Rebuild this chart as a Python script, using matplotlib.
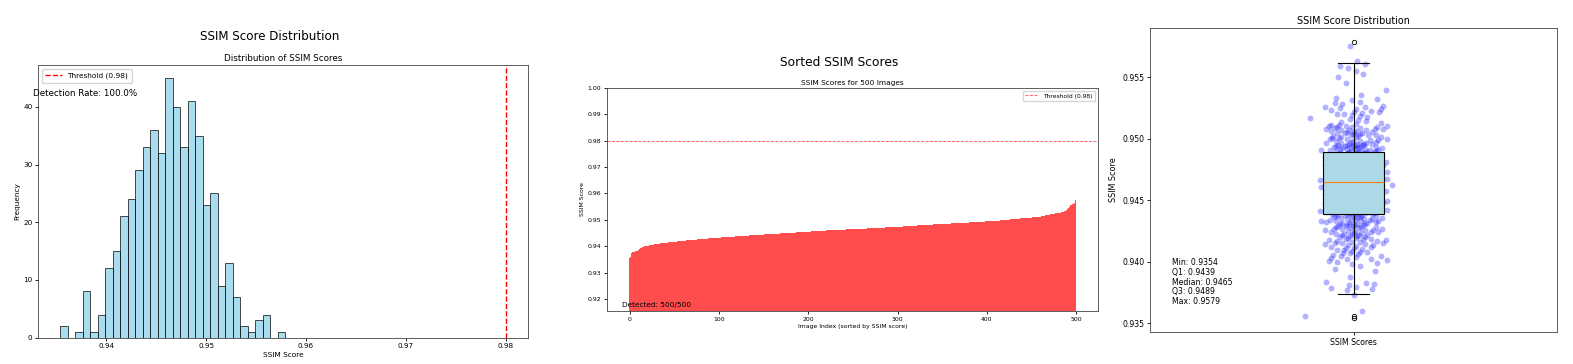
import numpy as np
import matplotlib
matplotlib.use("Agg")
import matplotlib.pyplot as plt

# histogram of SSIM scores (30 bins between min and max)
bin_counts = [2, 0, 1, 8, 1, 4, 12, 15, 21, 24, 29, 33, 36, 32, 45,
              40, 33, 41, 35, 23, 25, 9, 13, 7, 2, 1, 3, 4, 0, 1]
threshold = 0.98
n_images = 500
n_detected = 500

# summary stats printed on the box plot
score_min = 0.9354
score_q1 = 0.9439
score_median = 0.9465
score_q3 = 0.9489
score_max = 0.9579
whisker_low = 0.9374
whisker_high = 0.9562
fliers = [0.9354, 0.9356, 0.9579]

W, H = 1573, 364


def px_axes(fig, left, top, right, bottom):
    return fig.add_axes([left / W, 1 - bottom / H, (right - left) / W, (bottom - top) / H])


def style_axes(ax, tick_size, lw=0.6):
    for s in ax.spines.values():
        s.set_linewidth(lw)
        s.set_color("#444444")
    ax.tick_params(labelsize=tick_size, width=lw, length=2.5, pad=1.5)


# expand the histogram into individual scores (spread inside each bin)
edges = np.linspace(score_min, score_max, len(bin_counts) + 1)
scores = []
for i, c in enumerate(bin_counts):
    for j in range(c):
        scores.append(edges[i] + (j + 0.5) / c * (edges[i + 1] - edges[i]))
scores = np.sort(np.array(scores))
centers = (edges[:-1] + edges[1:]) / 2

fig = plt.figure(figsize=(W / 100, H / 100), dpi=100)

# ---- panel 1: histogram
ax1 = px_axes(fig, 38, 65, 528, 337.6)
ax1.hist(centers, bins=edges, weights=bin_counts, color="skyblue",
         edgecolor="black", alpha=0.7, linewidth=0.7)
ax1.axvline(threshold, color="red", linestyle="--", linewidth=1.0,
            label=f"Threshold ({threshold})")
ax1.set_title("Distribution of SSIM Scores", fontsize=6.3, pad=3)
ax1.set_xlabel("SSIM Score", fontsize=5.3, labelpad=2)
ax1.set_ylabel("Frequency", fontsize=5.3, labelpad=2)
ax1.legend(loc="upper left", fontsize=5.3, handlelength=2.2, borderpad=0.5)
ax1.text(-0.01, 0.896, f"Detection Rate: {n_detected / n_images * 100:.1f}%",
         transform=ax1.transAxes, fontsize=6.3, va="center")
style_axes(ax1, 5.2)
fig.text(270 / W, 1 - 36 / H, "SSIM Score Distribution", fontsize=8.6,
         ha="center", va="center")

# ---- panel 2: sorted scores
ax2 = px_axes(fig, 607, 88, 1098, 311)
idx = np.arange(len(scores))
ax2.bar(idx, scores, width=1.0, color="red", alpha=0.7, antialiased=False)
ax2.set_xlim(-25.4, 524.4)
ax2.axhline(threshold, color="red", linestyle="--", linewidth=0.6, alpha=0.7,
            label=f"Threshold ({threshold})")
ax2.set_ylim(score_min - 0.02, 1.0)
ax2.set_title(f"SSIM Scores for {n_images} Images", fontsize=5.3, pad=2.5)
ax2.set_xlabel("Image Index (sorted by SSIM score)", fontsize=4.4, labelpad=2)
ax2.set_ylabel("SSIM Score", fontsize=4.4, labelpad=2)
ax2.legend(loc="upper right", fontsize=4.3, handlelength=2.2)
ax2.text(0.03, 0.02, f"Detected: {n_detected}/{n_images}",
         transform=ax2.transAxes, fontsize=5.3)
style_axes(ax2, 4.4)
fig.text(839 / W, 1 - 63 / H, "Sorted SSIM Scores", fontsize=8.8,
         ha="center", va="center")

# ---- panel 3: box plot with points
ax3 = px_axes(fig, 1150, 28, 1557, 332)
k = np.arange(len(scores))
z = ((k * 0.6180339887) % 1 + (k * 0.4142135624) % 1 + (k * 0.7320508076) % 1 - 1.5) * 2
ax3.scatter(1 + 0.04 * z, scores, color="blue", alpha=0.3, s=18, linewidths=0)
stats = [dict(med=score_median, q1=score_q1, q3=score_q3, whislo=whisker_low,
              whishi=whisker_high, fliers=fliers, label="SSIM Scores")]
ax3.bxp(stats, widths=0.15, patch_artist=True,
        boxprops=dict(facecolor="lightblue", linewidth=0.8),
        medianprops=dict(color="tab:orange", linewidth=0.8),
        whiskerprops=dict(linewidth=0.8), capprops=dict(linewidth=0.8),
        flierprops=dict(marker="o", markersize=3.2, markeredgewidth=0.6,
                        markerfacecolor="none"))
ax3.set_xlim(0.5, 1.5)
ax3.set_ylim(score_min - 0.05 * (score_max - score_min),
             score_max + 0.05 * (score_max - score_min))
ax3.set_yticks([0.935, 0.940, 0.945, 0.950, 0.955])
ax3.set_title("SSIM Score Distribution", fontsize=6.9, pad=3)
ax3.set_ylabel("SSIM Score", fontsize=5.8, labelpad=3)
ax3.text(0.054, 0.085,
         f"Min: {score_min:.4f}\nQ1: {score_q1:.4f}\nMedian: {score_median:.4f}\n"
         f"Q3: {score_q3:.4f}\nMax: {score_max:.4f}",
         transform=ax3.transAxes, fontsize=5.6, va="bottom", linespacing=1.1)
style_axes(ax3, 5.6)

fig.savefig("out.png", dpi=100)
